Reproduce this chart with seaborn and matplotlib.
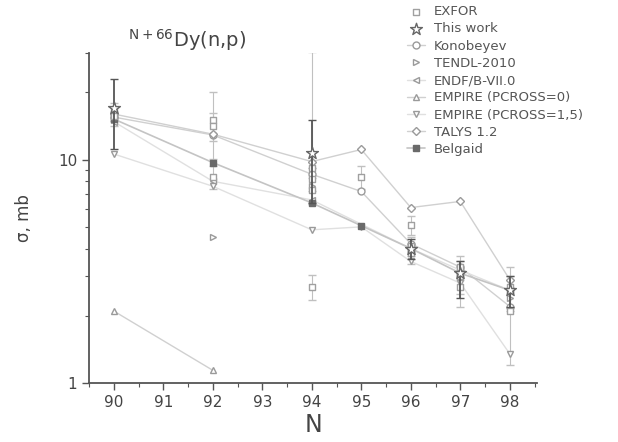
import numpy as np
import pandas as pd
import matplotlib
matplotlib.use("Agg")
import matplotlib.pyplot as plt
import seaborn as sns
from matplotlib.ticker import LogLocator, NullFormatter, FixedLocator, MultipleLocator

# ---------------- data ----------------
exfor_N = [90, 90, 92, 92, 92, 94, 94, 94, 94, 95, 96, 96, 96, 97, 97, 97, 98, 98]
exfor_v = [16.4, 15.6, 15.1, 14.1, 8.4, 8.2, 7.3, 2.7, 9.2, 8.4, 5.1, 4.1, 3.8, 3.3, 3.0, 2.7, 2.7, 2.1]
exfor_lo = [1.5, 1.5, 5.0, 2.0, 1.0, 1.0, 1.0, 0.35, 0.0, 1.0, 0.5, 0.4, 0.4, 0.4, 0.5, 0.5, 0.6, 0.9]
exfor_hi = [1.5, 1.5, 5.0, 2.0, 1.0, 1.0, 1.0, 0.35, 21.0, 1.0, 0.5, 0.4, 0.4, 0.4, 0.5, 0.5, 0.6, 0.9]

work_N = [90, 94, 96, 97, 98]
work_v = [17.1, 10.7, 4.0, 3.1, 2.6]
work_lo = [5.9, 4.3, 0.4, 0.7, 0.4]
work_hi = [5.9, 4.3, 0.4, 0.4, 0.4]

kono_N = [90, 92, 94, 95, 96, 97, 98]
kono_v = [15.5, 12.9, 8.6, 7.2, 4.2, 3.3, 2.2]

tendl_N = [90, 92, 94, 96, 97, 98]
tendl_v = [15.0, 4.5, 7.6, 4.0, 3.0, 2.4]

endf_N = [90, 92, 94, 96, 97, 98]
endf_v = [14.8, 8.0, 6.6, 4.0, 3.2, 2.6]

emp0_N = [90, 92]
emp0_v = [2.1, 1.14]

emp15_N = [90, 92, 94, 95, 96, 97, 98]
emp15_v = [10.6, 7.6, 4.85, 5.0, 3.5, 2.8, 1.35]

talys_N = [90, 92, 94, 95, 96, 97, 98]
talys_v = [16.0, 13.0, 9.8, 11.1, 6.1, 6.5, 2.9]

belg_N = [90, 92, 94, 95, 96, 97, 98]
belg_v = [15.2, 9.7, 6.4, 5.06, 4.0, 3.1, 2.6]

x_ticks = [90, 91, 92, 93, 94, 95, 96, 97, 98]

# ---------------- figure ----------------
sns.set_style("ticks")
plt.rcParams['font.family'] = ['DejaVu Sans']
plt.rcParams['mathtext.default'] = 'regular'
fig = plt.figure(figsize=(6.18, 4.42), dpi=100)
ax = fig.add_axes([0.144, 0.1335, 0.725, 0.7465])

line_c = "#d0d0d0"
mk_c = "#9a9a9a"

def model(Ns, vs, marker, label, ms=5, mec=mk_c, mfc="white", lc=line_c, lw=1.0):
    df = pd.DataFrame({"N": Ns, "v": vs})
    sns.lineplot(data=df, x="N", y="v", ax=ax, color=lc, lw=lw, marker=marker,
                 markersize=ms, markeredgecolor=mec, markerfacecolor=mfc,
                 markeredgewidth=1.0, label=label, zorder=2, estimator=None, sort=False)

# EXFOR
ax.errorbar(exfor_N, exfor_v, yerr=[exfor_lo, exfor_hi], fmt="none", ecolor="#c0c0c0",
            elinewidth=0.8, capsize=3, zorder=1)
df_ex = pd.DataFrame({"N": exfor_N, "v": exfor_v})
sns.scatterplot(data=df_ex, x="N", y="v", ax=ax, marker="s", s=22,
                facecolor="white", edgecolor="#a0a0a0", linewidth=1.0,
                label="EXFOR", zorder=3)

# This work
ax.errorbar(work_N, work_v, yerr=[work_lo, work_hi], fmt="none", ecolor="#555555",
            elinewidth=1.3, capsize=3, zorder=4)
df_w = pd.DataFrame({"N": work_N, "v": work_v})
sns.scatterplot(data=df_w, x="N", y="v", ax=ax, marker="*", s=80,
                facecolor="white", edgecolor="#666666", linewidth=1.0,
                label="This work", zorder=5)

model(kono_N, kono_v, "o", "Konobeyev")
model(tendl_N, tendl_v, ">", "TENDL-2010", lc="none")
model(endf_N, endf_v, "<", "ENDF/B-VII.0", lc="#e0e0e0")
model(emp0_N, emp0_v, "^", "EMPIRE (PCROSS=0)")
model(emp15_N, emp15_v, "v", "EMPIRE (PCROSS=1,5)", lc="#e0e0e0")
model(talys_N, talys_v, "D", "TALYS 1.2", ms=4.5)
model(belg_N, belg_v, "s", "Belgaid", ms=4.5, mec="#6a6a6a", mfc="#6a6a6a", lc="#c4c4c4", lw=1.2)

# axes
ax.set_yscale("log")
ax.set_ylim(1, 30)
ax.set_xlim(89.5, 98.55)
ax.xaxis.set_major_locator(FixedLocator(x_ticks))
ax.xaxis.set_minor_locator(MultipleLocator(0.5))
ax.set_xticklabels([str(t) for t in x_ticks])
ax.yaxis.set_major_locator(FixedLocator([1, 10]))
ax.set_yticklabels(["1", "10"])
ax.yaxis.set_minor_locator(LogLocator(base=10, subs=np.arange(2, 10)))
ax.yaxis.set_minor_formatter(NullFormatter())
for s in ["top", "right"]:
    ax.spines[s].set_visible(False)
for s in ["left", "bottom"]:
    ax.spines[s].set_color("#555555")
    ax.spines[s].set_linewidth(1.3)
ax.tick_params(axis="both", which="major", direction="out", length=5, width=1,
               colors="#555555", labelsize=11, labelcolor="#444444")
ax.tick_params(axis="both", which="minor", direction="out", length=3, width=0.8,
               colors="#555555")
ax.set_xlabel("N", fontsize=17, color="#444444", labelpad=2)
ax.set_ylabel("σ, mb", fontsize=12, color="#444444", labelpad=18)

fig.text(0.207, 0.895, r"$^{N+66}$Dy(n,p)", fontsize=14, color="#444444")

handles, labels = ax.get_legend_handles_labels()
if ax.legend_:
    ax.legend_.remove()
leg = fig.legend(handles, labels, loc="upper left", bbox_to_anchor=(0.64, 1.015),
                 frameon=False, fontsize=9.5, handlelength=1.3, labelspacing=0.32,
                 handletextpad=0.7, labelcolor="#555555")

fig.savefig("out.png", dpi=100)
